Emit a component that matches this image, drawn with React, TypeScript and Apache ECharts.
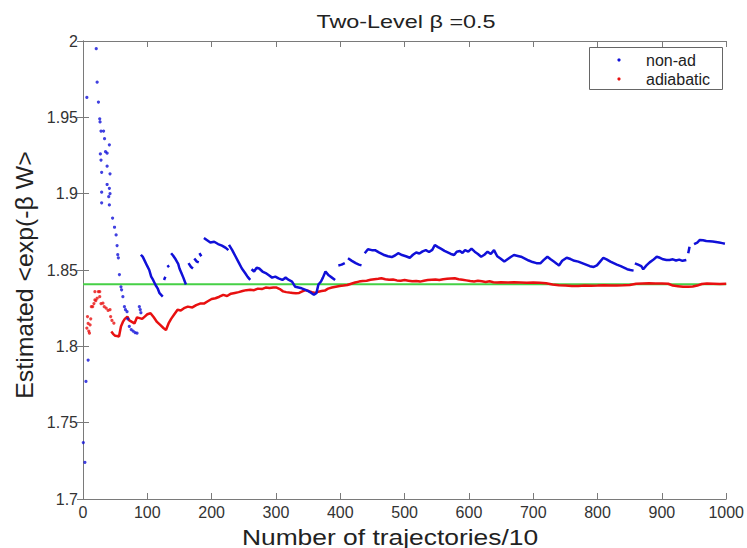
import React, { useEffect, useRef } from "react";
import * as echarts from "echarts";

const titleText = "Two-Level \u03b2 =0.5";
const xLabel = "Number of trajectories/10";
const yLabel = "Estimated <exp(-\u03b2 W>";
const legendNames = ["non-ad", "adiabatic"];
const referenceValue = 1.8407;

// non-adiabatic: sparse early estimates (dots)
const nonAdEarly: [number, number][] = [
  [0.5, 1.737], [3, 1.724], [4.6, 1.777], [8, 1.791], [6, 1.963],
  [20.6, 1.995], [22, 1.973], [24, 1.96], [26, 1.949], [26.5, 1.947],
  [27, 1.926], [28, 1.941], [28, 1.922], [29, 1.914], [29, 1.901], [29, 1.894],
  [32, 1.941], [33.5, 1.936], [35, 1.9275], [37.5, 1.9265], [37.5, 1.918],
  [37.5, 1.906], [40, 1.898], [41, 1.932], [41, 1.9035], [41, 1.8926],
  [42, 1.913], [42, 1.9], [46, 1.884], [49, 1.878], [51.5, 1.873], [53, 1.866],
  [54, 1.86], [55, 1.858], [56.6, 1.847], [59, 1.839], [60, 1.837],
  [62, 1.8325], [64.4, 1.826], [66, 1.824], [68.5, 1.8227], [69.5, 1.818],
  [72, 1.813], [75, 1.811], [78, 1.81], [81, 1.809], [84, 1.8086],
  [87.6, 1.826], [89, 1.824], [90, 1.822],
];

// non-adiabatic: dense running estimate, split where it jumps
const nonAdSegments: [number, number][][] = [
  [[90, 1.86], [93, 1.8586], [96, 1.856], [100, 1.8525], [103, 1.85], [106, 1.8456],
   [109, 1.8435], [113, 1.84], [116, 1.838], [119, 1.8348], [124, 1.8326]],
  [[126, 1.8435], [128, 1.8456]],
  [[131, 1.852], [134, 1.853]],
  [[137, 1.861], [140, 1.8595], [144, 1.857], [148, 1.854], [150, 1.851], [153, 1.848],
   [156, 1.845], [160, 1.8405]],
  [[164, 1.8545], [168, 1.852], [171, 1.851]],
  [[173, 1.8575], [177, 1.8555], [180, 1.855]],
  [[181, 1.861], [184, 1.859]],
  [[188, 1.871], [193, 1.8695], [198, 1.868], [204, 1.8685], [210, 1.867], [216, 1.866],
   [222, 1.8645], [226, 1.863]],
  [[227, 1.8664], [232, 1.863], [237, 1.859], [242, 1.855], [247, 1.851], [252, 1.848],
   [256, 1.8455], [260, 1.8435]],
  [[262, 1.8505], [266, 1.849], [270, 1.8515], [274, 1.851], [279, 1.849], [284, 1.848],
   [289, 1.8465], [294, 1.845], [299, 1.8457], [304, 1.8445], [310, 1.8435], [315, 1.845],
   [320, 1.8435], [325, 1.8424], [330, 1.839], [335, 1.8385], [340, 1.838], [346, 1.837],
   [351, 1.836], [355, 1.835], [359, 1.8337], [363, 1.835], [366, 1.8405], [370, 1.8425],
   [373, 1.845], [377, 1.849], [382, 1.8465], [387, 1.845], [392, 1.8435]],
  [[397, 1.853], [402, 1.8535], [407, 1.8545]],
  [[412, 1.8577], [418, 1.856], [424, 1.8545], [429, 1.8535], [433, 1.853]],
  [[438, 1.861], [443, 1.8636], [449, 1.863], [454, 1.863], [460, 1.8615], [467, 1.86],
   [474, 1.859], [480, 1.8585], [485, 1.8595], [490, 1.861], [496, 1.8598], [502, 1.859],
   [508, 1.858], [513, 1.86], [518, 1.8615], [523, 1.8608], [528, 1.8622], [533, 1.863],
   [538, 1.8618], [543, 1.8632], [547, 1.8664], [552, 1.865], [557, 1.8638], [562, 1.8625],
   [567, 1.8615], [572, 1.8605], [577, 1.8598], [581, 1.862], [586, 1.8625], [590, 1.8612],
   [594, 1.863], [599, 1.862], [604, 1.864], [609, 1.862], [614, 1.8605], [619, 1.8587],
   [624, 1.86], [629, 1.862], [634, 1.8605], [639, 1.863], [644, 1.859], [649, 1.8575],
   [655, 1.8555], [660, 1.857], [665, 1.8585], [670, 1.8598], [676, 1.8592], [681, 1.8587],
   [687, 1.8575], [693, 1.8562], [699, 1.8552], [705, 1.8545], [711, 1.8544], [716, 1.8565],
   [722, 1.8587], [727, 1.857], [732, 1.8555], [737, 1.854], [740, 1.853], [745, 1.856],
   [752, 1.858], [758, 1.8572], [764, 1.856], [770, 1.8555], [776, 1.8545], [782, 1.8535],
   [788, 1.8525], [794, 1.852], [799, 1.853], [804, 1.8555], [809, 1.858], [814, 1.857],
   [820, 1.8555], [825, 1.8545], [830, 1.8535], [836, 1.8525], [841, 1.8515], [846, 1.8505],
   [851, 1.85], [856, 1.8496]],
  [[858, 1.8544], [863, 1.8535], [868, 1.8525], [871, 1.8505], [876, 1.853], [881, 1.855],
   [886, 1.8565], [892, 1.8587], [897, 1.858], [902, 1.857], [907, 1.8565], [912, 1.8566],
   [917, 1.857], [922, 1.8562], [927, 1.8568], [932, 1.856], [938, 1.8566]],
  [[941, 1.861], [943, 1.8653]],
  [[950, 1.867], [955, 1.868], [959, 1.8697], [964, 1.8695], [969, 1.869], [974, 1.8688],
   [979, 1.8686], [984, 1.8683], [989, 1.868], [994, 1.8676], [998, 1.8672]],
];

// adiabatic: sparse early estimates (dots)
const adEarly: [number, number][] = [
  [6, 1.812], [7, 1.8195], [8, 1.815], [9, 1.81], [10, 1.8086], [11, 1.814],
  [12, 1.818], [13, 1.826], [15, 1.826], [17, 1.828], [18.5, 1.8304], [18.5, 1.8358],
  [20, 1.83], [22, 1.8315], [24, 1.8358], [26, 1.8325], [26, 1.8358], [28, 1.828],
  [31, 1.8283], [33, 1.826], [36, 1.825], [39, 1.8235], [42, 1.824], [43, 1.8195],
  [45, 1.817], [48, 1.8152],
];

// adiabatic: dense running estimate
const adLine: [number, number][] = [
  [44, 1.8097], [47, 1.808], [50, 1.807], [53, 1.8068], [56, 1.8064], [59, 1.813],
  [62, 1.816], [65, 1.818], [69, 1.8195], [72, 1.817], [76, 1.816], [80, 1.815],
  [84, 1.819], [88, 1.8185], [92, 1.818], [96, 1.8195], [100, 1.821], [105, 1.8217],
  [110, 1.819], [115, 1.816], [120, 1.814], [125, 1.812], [129, 1.8107], [133, 1.815],
  [137, 1.818], [142, 1.821], [147, 1.824], [152, 1.8235], [157, 1.825], [163, 1.826],
  [170, 1.8255], [176, 1.827], [182, 1.828], [188, 1.828], [194, 1.8295], [200, 1.831],
  [206, 1.8315], [212, 1.8325], [218, 1.8337], [224, 1.833], [230, 1.8345], [236, 1.835],
  [242, 1.8355], [248, 1.8362], [254, 1.8368], [260, 1.837], [266, 1.8368], [272, 1.8378],
  [278, 1.8375], [284, 1.8385], [290, 1.8382], [296, 1.8385], [301, 1.8385], [306, 1.8375],
  [311, 1.836], [316, 1.8355], [321, 1.8352], [326, 1.835], [331, 1.8348], [336, 1.835],
  [341, 1.836], [346, 1.8368], [351, 1.8362], [356, 1.8355], [361, 1.835], [366, 1.8358],
  [371, 1.8362], [376, 1.8365], [381, 1.8378], [387, 1.8385], [393, 1.839], [399, 1.8395],
  [405, 1.8398], [411, 1.8402], [417, 1.841], [423, 1.8418], [429, 1.8424], [435, 1.8428],
  [441, 1.843], [447, 1.8436], [453, 1.844], [459, 1.8443], [464, 1.8446], [470, 1.844],
  [476, 1.8436], [482, 1.8438], [488, 1.8432], [494, 1.843], [500, 1.8434], [506, 1.843],
  [512, 1.8426], [518, 1.8428], [524, 1.8424], [530, 1.843], [536, 1.8434], [542, 1.8436],
  [548, 1.8438], [554, 1.8435], [560, 1.844], [566, 1.8442], [572, 1.8444], [578, 1.8446],
  [584, 1.844], [590, 1.8436], [596, 1.8432], [602, 1.8428], [608, 1.8425], [614, 1.843],
  [620, 1.8426], [626, 1.8422], [632, 1.8426], [638, 1.842], [644, 1.8418], [650, 1.842],
  [660, 1.8418], [670, 1.842], [680, 1.8418], [690, 1.8416], [700, 1.8418], [710, 1.8417],
  [720, 1.8413], [730, 1.8405], [740, 1.84], [750, 1.8398], [760, 1.8396], [770, 1.8396],
  [780, 1.8398], [790, 1.8397], [800, 1.8398], [810, 1.84], [820, 1.8398], [830, 1.8399],
  [840, 1.84], [850, 1.8402], [860, 1.841], [870, 1.8412], [880, 1.8413], [890, 1.8412],
  [900, 1.8411], [910, 1.841], [917, 1.8398], [925, 1.8394], [933, 1.839], [941, 1.839],
  [948, 1.8392], [955, 1.8398], [962, 1.8408], [970, 1.8411], [980, 1.841], [990, 1.8409],
  [1000, 1.841],
];

const FONT = "'Liberation Sans', Arial, sans-serif";
const BLUE = "#1010d8";
const RED = "#e81010";
const GREEN = "#46d046";
const AXIS = "#7a7a7a";

export default function App() {
  const ref = useRef<HTMLDivElement>(null);
  useEffect(() => {
    document.body.style.margin = "0";
    if (!ref.current) return;
    const chart = echarts.init(ref.current, undefined, { renderer: "svg" });
    const axisCommon = {
      axisLine: { show: true, lineStyle: { color: AXIS, width: 1 } },
      axisTick: { show: true, inside: true, length: 6, lineStyle: { color: AXIS } },
      splitLine: { show: false },
    };
    const fmtY = (v: number) => String(+v.toFixed(2));
    const fmtX = (v: number) => String(Math.round(v));
    const series: any[] = [
      {
        type: "line",
        data: [[0, referenceValue], [1000, referenceValue]],
        showSymbol: false,
        lineStyle: { color: GREEN, width: 2 },
        z: 2,
      },
      {
        type: "line",
        data: adLine,
        showSymbol: false,
        lineStyle: { color: RED, width: 2.5 },
        z: 3,
      },
      {
        type: "scatter",
        data: adEarly,
        symbolSize: 3.2,
        itemStyle: { color: RED },
        z: 3,
      },
      {
        type: "scatter",
        data: nonAdEarly,
        symbolSize: 3.2,
        itemStyle: { color: BLUE },
        z: 4,
      },
      ...nonAdSegments.map((seg) => ({
        type: "line",
        data: seg,
        showSymbol: false,
        lineStyle: { color: BLUE, width: 2.5 },
        z: 4,
      })),
    ];
    chart.setOption({
      animation: false,
      backgroundColor: "#ffffff",
      grid: { left: 83, right: 17, top: 41, bottom: 49 },
      xAxis: [
        {
          type: "value",
          min: 0,
          max: 1000,
          interval: 100,
          position: "bottom",
          ...axisCommon,
          axisLabel: { color: "#333", fontSize: 16, fontFamily: FONT, margin: 5, formatter: fmtX },
        },
        {
          type: "value",
          min: 0,
          max: 1000,
          interval: 100,
          position: "top",
          ...axisCommon,
          axisLabel: { show: false },
        },
      ],
      yAxis: [
        {
          type: "value",
          min: 1.7,
          max: 2,
          interval: 0.05,
          position: "left",
          ...axisCommon,
          axisLabel: { color: "#333", fontSize: 16, fontFamily: FONT, margin: 5, formatter: fmtY },
        },
        {
          type: "value",
          min: 1.7,
          max: 2,
          interval: 0.05,
          position: "right",
          ...axisCommon,
          axisLabel: { show: false },
        },
      ],
      series,
      graphic: [
        {
          type: "text",
          x: 406,
          y: 22,
          scaleX: 1.3,
          style: {
            text: titleText,
            fill: "#222",
            font: `18px ${FONT}`,
            textAlign: "center",
            textVerticalAlign: "middle",
          },
        },
        {
          type: "text",
          x: 390,
          y: 537,
          scaleX: 1.2,
          style: {
            text: xLabel,
            fill: "#222",
            font: `22px ${FONT}`,
            textAlign: "center",
            textVerticalAlign: "middle",
          },
        },
        {
          type: "text",
          x: 25,
          y: 275,
          rotation: Math.PI / 2,
          scaleX: 1.08,
          style: {
            text: yLabel,
            fill: "#222",
            font: `23px ${FONT}`,
            textAlign: "center",
            textVerticalAlign: "middle",
          },
        },
        {
          type: "rect",
          shape: { x: 589.5, y: 47.5, width: 133, height: 42 },
          style: { fill: "#fff", stroke: "#666", lineWidth: 1 },
          z: 10,
        },
        {
          type: "circle",
          shape: { cx: 619, cy: 60, r: 1.6 },
          style: { fill: BLUE },
          z: 11,
        },
        {
          type: "circle",
          shape: { cx: 619, cy: 79, r: 1.6 },
          style: { fill: RED },
          z: 11,
        },
        {
          type: "text",
          x: 646,
          y: 60,
          style: {
            text: legendNames[0],
            fill: "#222",
            font: `16px ${FONT}`,
            textVerticalAlign: "middle",
          },
          z: 11,
        },
        {
          type: "text",
          x: 646,
          y: 79,
          style: {
            text: legendNames[1],
            fill: "#222",
            font: `16px ${FONT}`,
            textVerticalAlign: "middle",
          },
          z: 11,
        },
      ],
    });
    return () => chart.dispose();
  }, []);
  return <div ref={ref} style={{ width: 747, height: 548 }} />;
}
